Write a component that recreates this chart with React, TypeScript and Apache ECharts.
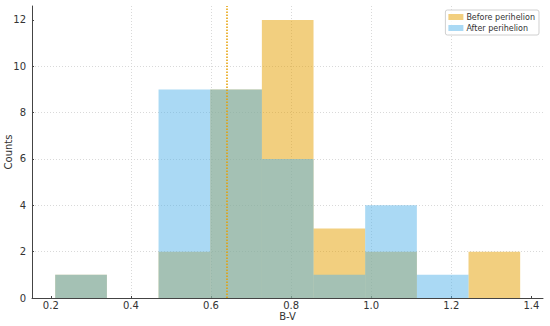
import React, { useEffect, useRef } from "react";
import * as echarts from "echarts";

const binEdges = [0.211, 0.34, 0.469, 0.598, 0.727, 0.856, 0.985, 1.114, 1.243, 1.372];
const beforeCounts = [1, 0, 2, 9, 12, 3, 2, 0, 2];
const afterCounts = [1, 0, 9, 9, 6, 1, 4, 1, 0];
const seriesNames = ["Before perihelion", "After perihelion"];
const xTicks = [0.2, 0.4, 0.6, 0.8, 1.0, 1.2, 1.4];
const yTicks = [0, 2, 4, 6, 8, 10, 12];
const meanLine = 0.644;

const FONT = "DejaVu Sans";

function toBins(counts: number[]) {
  return counts.map((c, i) => [binEdges[i], binEdges[i + 1], c]);
}

export default function App() {
  const ref = useRef<HTMLDivElement>(null);
  useEffect(() => {
    if (!ref.current) return;
    const chart = echarts.init(ref.current, undefined, { renderer: "svg" });
    const renderItem = (params: any, api: any) => {
      const p0 = api.coord([api.value(0), 0]);
      const p1 = api.coord([api.value(1), api.value(2)]);
      return {
        type: "rect",
        shape: { x: p0[0], y: p1[1], width: p1[0] - p0[0], height: p0[1] - p1[1] },
        style: { fill: api.visual("color") },
      };
    };
    chart.setOption({
      animation: false,
      textStyle: { fontFamily: FONT },
      grid: { left: 32, right: 7, top: 6, bottom: 28, containLabel: false, outerBoundsMode: "none" },
      legend: {
        right: 11,
        top: 10,
        orient: "vertical",
        itemWidth: 15,
        itemHeight: 6,
        itemGap: 3,
        padding: [3, 4, 3, 3],
        borderColor: "#d0d0d0",
        borderWidth: 1,
        borderRadius: 2,
        backgroundColor: "rgba(255,255,255,0.85)",
        icon: "rect",
        textStyle: { fontFamily: FONT, fontSize: 8, color: "#333", padding: [0, 0, 0, -2] },
        data: seriesNames,
      },
      xAxis: {
        type: "value",
        min: 0.153,
        max: 1.429,
        name: "B-V",
        nameLocation: "middle",
        nameGap: 13,
        nameMoveOverlap: false,
        nameTextStyle: { fontFamily: FONT, fontSize: 10, color: "#333", verticalAlign: "top" },
        axisLine: { show: true, lineStyle: { color: "#444", width: 1 } },
        axisTick: { show: true, inside: true, length: 2, customValues: xTicks, lineStyle: { color: "#444" } },
        axisLabel: {
          customValues: xTicks,
          fontFamily: FONT,
          fontSize: 10,
          color: "#333",
          margin: 2,
          formatter: (v: number) => v.toFixed(1),
        },
        splitLine: {
          show: true,
          showMinLine: false,
          showMaxLine: false,
          lineStyle: { color: "#cfcfcf", type: [1, 2], width: 0.8 },
        },
      },
      yAxis: {
        type: "value",
        min: 0,
        max: 12.6,
        interval: 2,
        name: "Counts",
        nameLocation: "middle",
        nameGap: 19,
        nameMoveOverlap: false,
        nameRotate: 90,
        nameTextStyle: { fontFamily: FONT, fontSize: 10, color: "#333" },
        axisLine: { show: true, lineStyle: { color: "#444", width: 1 } },
        axisTick: { show: true, inside: true, length: 2, customValues: yTicks, lineStyle: { color: "#444" } },
        axisLabel: { customValues: yTicks, fontFamily: FONT, fontSize: 10, color: "#333", margin: 6 },
        splitLine: {
          show: true,
          showMinLine: false,
          showMaxLine: false,
          lineStyle: { color: "#cfcfcf", type: [1, 2], width: 0.8 },
        },
      },
      series: [
        {
          name: seriesNames[0],
          type: "custom",
          renderItem,
          itemStyle: { color: "rgba(230,159,0,0.5)" },
          encode: { x: [0, 1], y: 2 },
          data: toBins(beforeCounts),
          z: 2,
          markLine: {
            silent: true,
            symbol: "none",
            label: { show: false },
            lineStyle: { color: "#E69F00", type: [1.5, 1.5], width: 1.5 },
            data: [{ xAxis: meanLine }],
          },
        },
        {
          name: seriesNames[1],
          type: "custom",
          renderItem,
          itemStyle: { color: "rgba(86,180,233,0.5)" },
          encode: { x: [0, 1], y: 2 },
          data: toBins(afterCounts),
          z: 3,
        },
      ],
    });
    return () => chart.dispose();
  }, []);
  return (
    <div
      ref={ref}
      style={{ position: "fixed", left: 0, top: 0, width: 550, height: 326, background: "#fff" }}
    />
  );
}
